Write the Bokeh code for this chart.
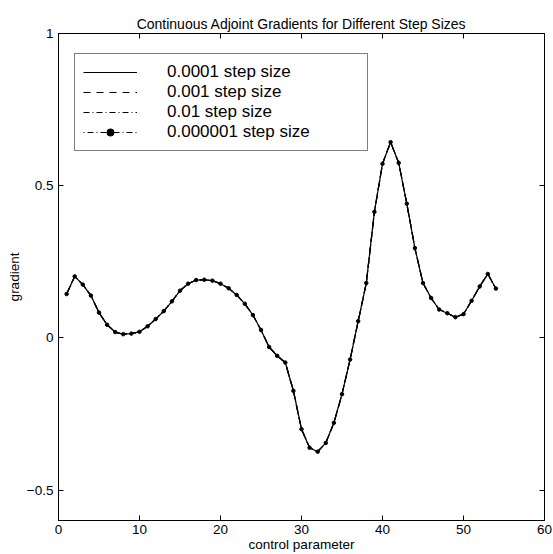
from bokeh.plotting import figure
from bokeh.models import LinearAxis, FixedTicker, Legend, LegendItem, Range1d
from bokeh.embed import file_html
from bokeh.resources import INLINE

# ---- data ----
control_parameter = list(range(1, 55))
grad_step_1e4 = [0.144, 0.202, 0.175, 0.139, 0.083, 0.043, 0.019, 0.012, 0.014, 0.020,
                 0.038, 0.062, 0.088, 0.120, 0.155, 0.178, 0.190, 0.191, 0.188, 0.178,
                 0.163, 0.141, 0.112, 0.075, 0.026, -0.030, -0.059, -0.081, -0.174, -0.300,
                 -0.361, -0.374, -0.345, -0.279, -0.185, -0.071, 0.055, 0.180, 0.414, 0.572,
                 0.643, 0.575, 0.441, 0.295, 0.180, 0.131, 0.093, 0.081, 0.068, 0.078,
                 0.122, 0.169, 0.210, 0.162]
grad_step_1e3 = [0.144, 0.202, 0.175, 0.139, 0.083, 0.043, 0.019, 0.012, 0.014, 0.020,
                 0.038, 0.062, 0.088, 0.120, 0.155, 0.178, 0.190, 0.191, 0.188, 0.178,
                 0.163, 0.141, 0.112, 0.075, 0.026, -0.030, -0.059, -0.081, -0.174, -0.300,
                 -0.361, -0.374, -0.345, -0.279, -0.185, -0.071, 0.055, 0.180, 0.414, 0.572,
                 0.643, 0.575, 0.441, 0.295, 0.180, 0.131, 0.093, 0.081, 0.068, 0.078,
                 0.122, 0.169, 0.210, 0.162]
grad_step_1e2 = [0.144, 0.202, 0.175, 0.139, 0.083, 0.043, 0.019, 0.012, 0.014, 0.020,
                 0.038, 0.062, 0.088, 0.120, 0.155, 0.178, 0.190, 0.191, 0.188, 0.178,
                 0.163, 0.141, 0.112, 0.075, 0.026, -0.030, -0.059, -0.081, -0.174, -0.300,
                 -0.361, -0.374, -0.345, -0.279, -0.185, -0.071, 0.055, 0.180, 0.414, 0.572,
                 0.643, 0.575, 0.441, 0.295, 0.180, 0.131, 0.093, 0.081, 0.068, 0.078,
                 0.122, 0.169, 0.210, 0.162]
grad_step_1e6 = [0.144, 0.202, 0.175, 0.139, 0.083, 0.043, 0.019, 0.012, 0.014, 0.020,
                 0.038, 0.062, 0.088, 0.120, 0.155, 0.178, 0.190, 0.191, 0.188, 0.178,
                 0.163, 0.141, 0.112, 0.075, 0.026, -0.030, -0.059, -0.081, -0.174, -0.300,
                 -0.361, -0.374, -0.345, -0.279, -0.185, -0.071, 0.055, 0.180, 0.414, 0.572,
                 0.643, 0.575, 0.441, 0.295, 0.180, 0.131, 0.093, 0.081, 0.068, 0.078,
                 0.122, 0.169, 0.210, 0.162]
series_labels = ["0.0001 step size", "0.001 step size", "0.01 step size", "0.000001 step size"]
x_ticks = [0, 10, 20, 30, 40, 50, 60]
y_ticks = [-0.5, 0, 0.5, 1]
y_tick_labels = {-0.5: "\u22120.5", 0: "0", 0.5: "0.5", 1: "1"}
blank_x_labels = {t: "" for t in x_ticks}
blank_y_labels = {t: "" for t in y_ticks}

FONT = "Liberation Sans"

p = figure(width=553, height=554, x_range=Range1d(0, 60), y_range=Range1d(-0.6, 1),
           output_backend="svg", toolbar_location=None,
           title="Continuous Adjoint Gradients for Different Step Sizes",
           min_border_left=58, min_border_right=9, min_border_top=33, min_border_bottom=34)
p.title.align = "center"
p.title.text_font = FONT
p.title.text_font_size = "14px"
p.title.text_font_style = "normal"
p.title.text_color = "black"
p.title.standoff = 4
p.xgrid.visible = False
p.ygrid.visible = False
p.outline_line_color = "black"
p.outline_line_width = 1
p.background_fill_color = "white"
p.border_fill_color = "white"

def style_axis(ax, ticks):
    ax.ticker = FixedTicker(ticks=ticks)
    ax.minor_tick_line_color = None
    ax.major_tick_in = 5
    ax.major_tick_out = 0
    ax.axis_line_color = "black"
    ax.major_tick_line_color = "black"
    ax.major_label_text_font = FONT
    ax.major_label_text_font_size = "13.5px"
    ax.major_label_text_color = "black"
    ax.axis_label_text_font = FONT
    ax.axis_label_text_font_size = "13.5px"
    ax.axis_label_text_font_style = "normal"
    ax.axis_label_text_color = "black"

xa = p.xaxis[0]
ya = p.yaxis[0]
style_axis(xa, x_ticks)
style_axis(ya, y_ticks)
xa.axis_label = "control parameter"
ya.axis_label = "gradient"
xa.major_label_standoff = 4
xa.axis_label_standoff = 0
ya.major_label_standoff = 5
ya.axis_label_standoff = 2
ya.major_label_overrides = y_tick_labels

top_ax = LinearAxis()
style_axis(top_ax, x_ticks)
top_ax.major_label_overrides = blank_x_labels
top_ax.major_label_standoff = 0
right_ax = LinearAxis()
style_axis(right_ax, y_ticks)
right_ax.major_label_overrides = blank_y_labels
right_ax.major_label_standoff = 0
p.add_layout(top_ax, "above")
p.add_layout(right_ax, "right")

r1 = p.line(control_parameter, grad_step_1e4, line_color="black", line_width=1.2)
r2 = p.line(control_parameter, grad_step_1e3, line_color="black", line_width=1.2, line_dash="7 6")
r3 = p.line(control_parameter, grad_step_1e2, line_color="black", line_width=1.2, line_dash="6 3 1 3")
r4 = p.line(control_parameter, grad_step_1e6, line_color="black", line_width=1.2, line_dash="1 3 6 3")
r4m = p.scatter(control_parameter, grad_step_1e6, marker="circle", size=3.5,
                fill_color="black", line_color="black")

legend = Legend(items=[
    LegendItem(label=series_labels[0], renderers=[r1]),
    LegendItem(label=series_labels[1], renderers=[r2]),
    LegendItem(label=series_labels[2], renderers=[r3]),
    LegendItem(label=series_labels[3], renderers=[r4, r4m]),
], location=(16, 369))
legend.border_line_color = "black"
legend.border_line_width = 1
legend.background_fill_color = "white"
legend.background_fill_alpha = 1
legend.label_text_font = FONT
legend.label_text_font_size = "17px"
legend.label_text_color = "black"
legend.glyph_width = 54
legend.glyph_height = 18
legend.label_height = 18
legend.label_width = 192
legend.label_standoff = 30
legend.padding = 8
legend.spacing = 0
legend.margin = 0
p.add_layout(legend)

open("out.html", "w").write(file_html(p, INLINE))
